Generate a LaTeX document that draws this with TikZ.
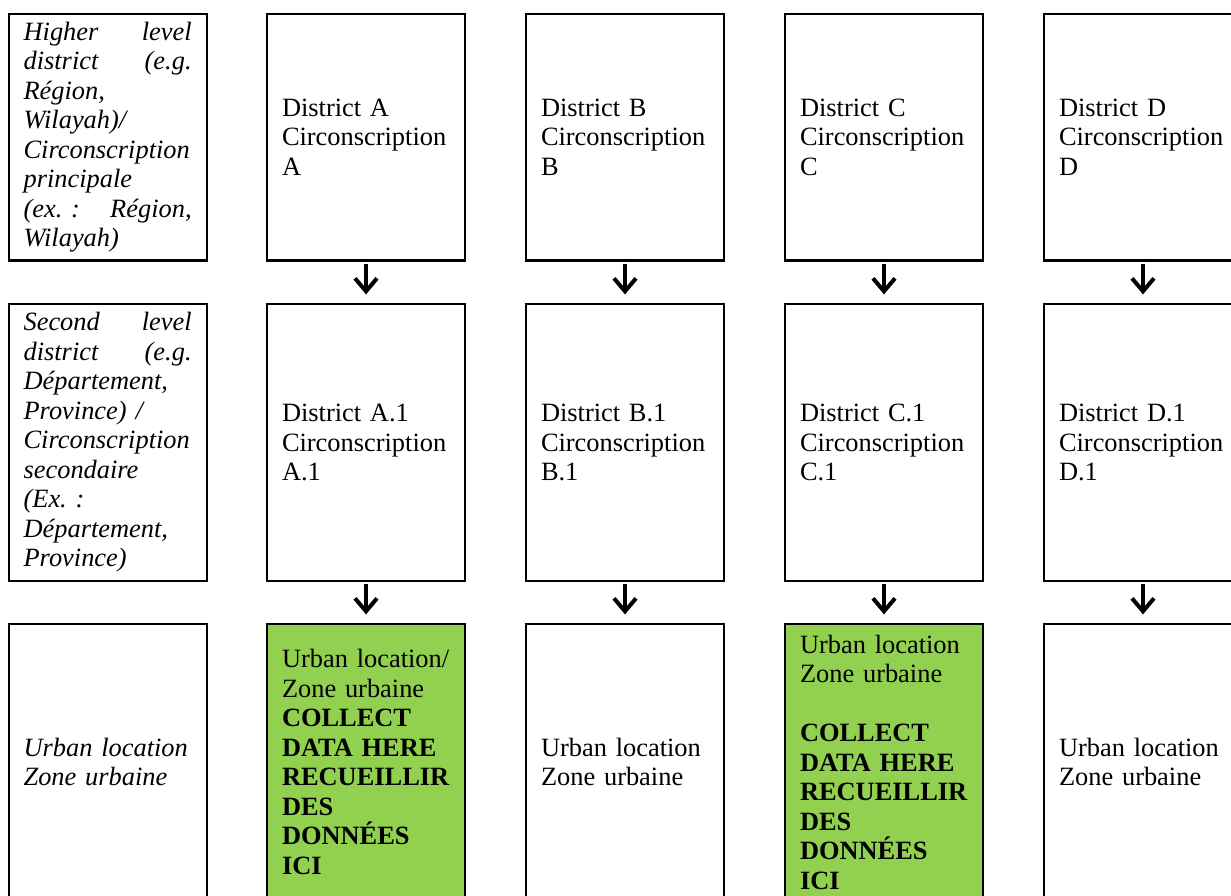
\documentclass[tikz,border=0pt]{standalone}
\usepackage{fontspec}
\setmainfont{Liberation Serif}
\usepackage{xcolor}
\usepackage{tikz}
\usetikzlibrary{arrows.meta}
\tikzset{>={Straight Barb[length=6.5pt,width=11pt]}}
\definecolor{collect}{HTML}{92D050}
\frenchspacing

\begin{document}
\begin{tikzpicture}[font=\fontsize{13.2pt}{14.75pt}\selectfont,
	box/.style={draw,line width=1.1pt,inner xsep=7.5pt,inner ysep=1pt,text width=84pt,align=left,minimum width=99pt},
	lab/.style={box,font=\fontsize{13.2pt}{14.75pt}\selectfont\itshape},
	top/.style={minimum height=123.25pt},
	mid/.style={minimum height=138.5pt},
	low/.style={minimum height=138pt},
	flow/.style={->,line width=2pt,shorten <=1pt,shorten >=4.25pt}]
	\useasboundingbox (0,0) rectangle (615.5pt,-447.5pt);
	% level labels
	\node[lab,top] (lab1) at (53.8pt,-68.6pt) {Higher\hfill level\\ district\hfill (e.g.\\ Région,\\ Wilayah)/\\ Circonscription\\ principale\\ (ex. :\hfill Région,\\ Wilayah)};
	\node[lab,mid] (lab2) at (53.8pt,-221.25pt) {Second\hfill level\\ district\hfill (e.g.\\ Département,\\ Province) /\\ Circonscription\\ secondaire\\ (Ex. :\\ Département,\\ Province)};
	\node[lab,low] (lab3) at (53.8pt,-381pt) {Urban location\\ Zone urbaine};
	% higher level
	\node[box,top] (a1) at (183pt,-68.6pt) {District A\\ Circonscription\\ A};
	\node[box,top] (b1) at (312.5pt,-68.6pt) {District B\\ Circonscription\\ B};
	\node[box,top] (c1) at (442pt,-68.6pt) {District C\\ Circonscription\\ C};
	\node[box,top] (d1) at (571.5pt,-68.6pt) {District D\\ Circonscription\\ D};
	% second level
	\node[box,mid] (a2) at (183pt,-221.25pt) {District A.1\\ Circonscription\\ A.1};
	\node[box,mid] (b2) at (312.5pt,-221.25pt) {District B.1\\ Circonscription\\ B.1};
	\node[box,mid] (c2) at (442pt,-221.25pt) {District C.1\\ Circonscription\\ C.1};
	\node[box,mid] (d2) at (571.5pt,-221.25pt) {District D.1\\ Circonscription\\ D.1};
	% urban locations
	\node[box,low,fill=collect] (a3) at (183pt,-381pt) {Urban location/\\ Zone urbaine\\ \bfseries COLLECT\\ DATA HERE\\ RECUEILLIR\\ DES\\ DONNÉES\\ ICI};
	\node[box,low] (b3) at (312.5pt,-381pt) {Urban location\\ Zone urbaine};
	\node[box,low,fill=collect] (c3) at (442pt,-381pt) {Urban location\\ Zone urbaine\\[14.75pt] \bfseries COLLECT\\ DATA HERE\\ RECUEILLIR\\ DES\\ DONNÉES\\ ICI};
	\node[box,low] (d3) at (571.5pt,-381pt) {Urban location\\ Zone urbaine};
	\foreach \col in {a,b,c,d} {
		\draw[flow] (\col1) -- (\col2);
		\draw[flow] (\col2) -- (\col3);
	}
\end{tikzpicture}
\end{document}
